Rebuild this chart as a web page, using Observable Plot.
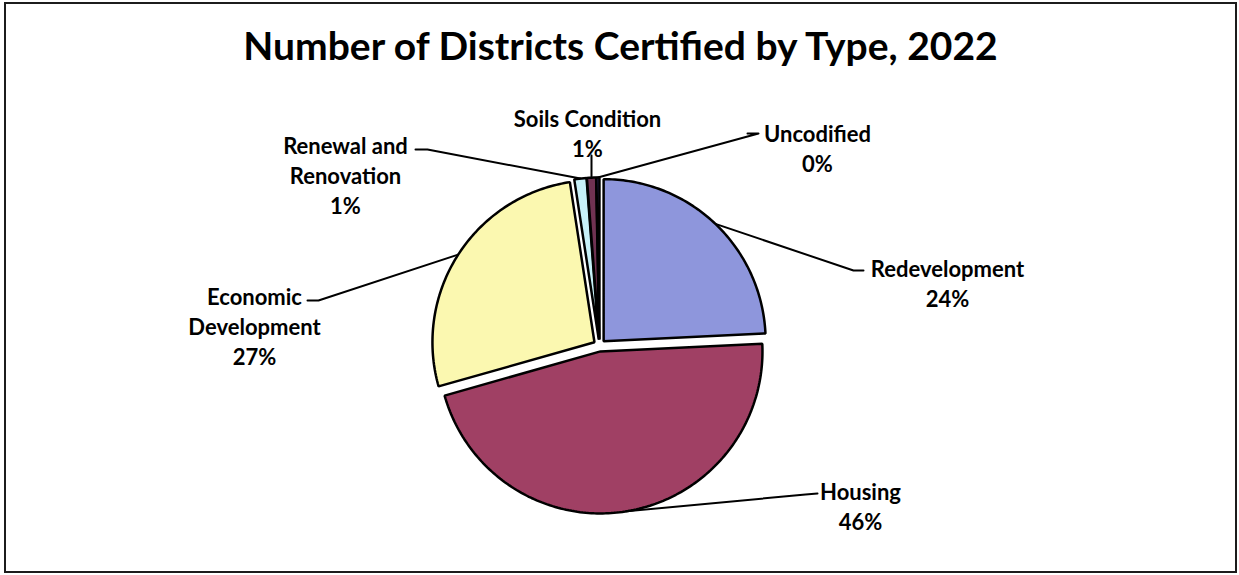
<!DOCTYPE html>
<html>
<head>
<meta charset="utf-8">
<script src="https://cdn.jsdelivr.net/npm/d3@7"></script>
<script src="https://cdn.jsdelivr.net/npm/@observablehq/plot@0.6"></script>
<style>
  body { margin: 0; background: #fff; }
  #frame { position: absolute; left: 4px; top: 2px; width: 1229px; height: 567px;
           border: 2px solid #1c1c1c; background: #fff; overflow: hidden; }
  #title { position: absolute; left: 0; top: 22px; width: 1229px; text-align: center;
           font-family: Lato, "DejaVu Sans", sans-serif; font-weight: bold; font-size: 39px;
           line-height: 39px; color: #000; white-space: nowrap; }
  #chart { position: absolute; left: 0; top: 92px; }
</style>
</head>
<body>
<div id="frame">
  <div id="title">Number of Districts Certified by Type, 2022</div>
  <div id="chart"></div>
</div>
<script>
// ---- data ----
const categories = ["Redevelopment", "Housing", "Economic Development", "Renewal and Renovation", "Soils Condition", "Uncodified"];
const counts = [80, 153, 89, 4, 3, 1];
const labelLines = ["Redevelopment", "Housing", "Economic\nDevelopment", "Renewal and\nRenovation", "Soils Condition", "Uncodified"];
const colors = ["#8E96DC", "#A04064", "#FBF8B0", "#C7F0F8", "#703252", "#2E2E6E"];

// ---- layout (page pixels) ----
const W = 1229, H = 475;          // svg size
const R = 162;                    // pie radius in px
const cxPage = 599, cyPage = 345; // pie centre on the page
const svgLeft = 6, svgTop = 96;
const explode = 6 / R;
const labelLayout = [
  {x: 947, top: 255, elbow: [853, 270], end: [863, 270]},
  {x: 860, top: 478, elbow: [805, 494], end: [817, 493]},
  {x: 254, top: 283, elbow: [318, 300], end: [307, 300]},
  {x: 345, top: 132, elbow: [427, 149], end: [415, 149]},
  {x: 587, top: 105, elbow: [591, 155], end: [591, 155]},
  {x: 817, top: 120, elbow: [758, 133], end: [747, 133]}
];
const ux = px => (px - cxPage) / R;
const uy = py => (cyPage - py) / R;

// ---- build slices ----
const total = d3.sum(counts);
const slices = [];
const leaders = [];
const labels = [];
let acc = 0;
categories.forEach((cat, i) => {
  const a0 = acc / total * 2 * Math.PI;
  acc += counts[i];
  const a1 = acc / total * 2 * Math.PI;
  const mid = (a0 + a1) / 2;
  const ox = explode * Math.sin(mid), oy = explode * Math.cos(mid);
  slices.push({cat, x: ox, y: oy});
  const steps = Math.max(2, Math.ceil((a1 - a0) / (Math.PI / 180)));
  for (let k = 0; k <= steps; k++) {
    const a = a0 + (a1 - a0) * k / steps;
    slices.push({cat, x: ox + Math.sin(a), y: oy + Math.cos(a)});
  }
  const L = labelLayout[i];
  const ax = ox + Math.sin(mid), ay = oy + Math.cos(mid);
  leaders.push({cat, x: ax, y: ay});
  leaders.push({cat, x: ux(L.elbow[0]), y: uy(L.elbow[1])});
  leaders.push({cat, x: ux(L.end[0]), y: uy(L.end[1])});
  const pct = Math.round(counts[i] / total * 100) + "%";
  labels.push({cat, x: ux(L.x), y: uy(L.top), text: labelLines[i] + "\n" + pct});
});

const cxSvg = cxPage - svgLeft, cySvg = cyPage - svgTop;

const chart = Plot.plot({
  width: W,
  height: H,
  margin: 0,
  style: {fontFamily: "Lato, sans-serif", background: "#fff"},
  x: {domain: [-cxSvg / R, (W - cxSvg) / R], range: [0, W], axis: null},
  y: {domain: [(cySvg - H) / R, cySvg / R], range: [H, 0], axis: null},
  color: {domain: categories, range: colors},
  marks: [
    Plot.line(leaders, {x: "x", y: "y", z: "cat", stroke: "#000", strokeWidth: 2}),
    Plot.line(slices, {x: "x", y: "y", z: "cat", fill: "cat", stroke: "#000", strokeWidth: 2.5,
                       strokeLinejoin: "miter", curve: "linear-closed"}),
    Plot.text(labels, {x: "x", y: "y", text: "text", fontSize: 22, fontWeight: "bold",
                       lineAnchor: "top", lineHeight: 1.37, textAnchor: "middle", fill: "#000"})
  ]
});
document.getElementById("chart").appendChild(chart);
</script>
</body>
</html>
